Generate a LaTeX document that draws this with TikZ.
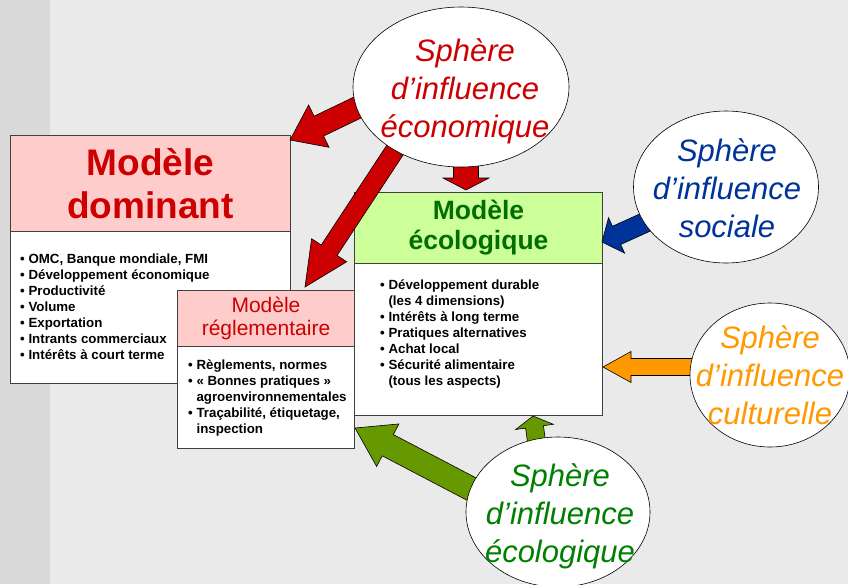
\documentclass[tikz,border=0pt]{standalone}
\usepackage{fontspec}
\setmainfont{Liberation Sans}
\usetikzlibrary{shapes.geometric,calc}
\definecolor{redc}{HTML}{CC0000}
\definecolor{bluec}{HTML}{003399}
\definecolor{orangec}{HTML}{FF9900}
\definecolor{greena}{HTML}{669900}
\definecolor{greent}{HTML}{008000}
\definecolor{greenh}{HTML}{006E00}
\definecolor{domfill}{HTML}{FFCCCC}
\definecolor{ecofill}{HTML}{CCFF99}
\definecolor{bgc}{HTML}{EAEAEA}
\definecolor{stripc}{HTML}{DADADA}
\definecolor{bordc}{HTML}{404040}
\newcommand{\blockarrow}[6]{%
  \coordinate (bh) at ($(#2)!#5!(#1)$);
  \fill[#6, draw=black, line width=0.6pt, line join=miter]
   ($(#1)!#3!90:(#2)$) -- ($(bh)!#3!90:(#2)$) -- ($(bh)!#4!90:(#2)$) -- (#2)
   -- ($(bh)!#4!-90:(#2)$) -- ($(bh)!#3!-90:(#2)$) -- ($(#1)!#3!-90:(#2)$) -- cycle;
}
\begin{document}
\begin{tikzpicture}[x=1pt,y=-1pt,
  boxbody/.style={draw=bordc, fill=white, line width=1pt, anchor=north west, inner sep=0pt},
  boxhead/.style={draw=bordc, line width=1pt, anchor=north west, inner sep=0pt, align=center},
  bodytext/.style={anchor=base west, inner sep=0pt, align=left, font=\bfseries\fontsize{13.3}{16}\selectfont},
  sphere/.style={ellipse, draw=black, line width=0.6pt, fill=white, inner sep=0pt},
  spheretext/.style={inner sep=0pt, align=center, font=\itshape\fontsize{31}{38}\selectfont}]
\useasboundingbox (0,0) rectangle (848,584);
\fill[bgc] (0,0) rectangle (848,584);
\fill[stripc] (0,0) rectangle (50,584);

% Modele dominant
\node[boxbody, minimum width=280pt, minimum height=248pt] (dom) at (10,135) {};
\node[boxhead, fill=domfill, minimum width=280pt, minimum height=96pt, text=redc,
      font=\bfseries\fontsize{37}{43}\selectfont] (domh) at (dom.north west) {Modèle\\dominant};
\node[bodytext] (domb) at (20,359.7) {• OMC, Banque mondiale, FMI\\• Développement économique\\• Productivité\\• Volume\\• Exportation\\• Intrants commerciaux\\• Intérêts à court terme};

% Modele reglementaire
\node[boxbody, minimum width=177pt, minimum height=158pt] (reg) at (177,290) {};
\node[boxhead, fill=domfill, minimum width=177pt, minimum height=56pt, text=redc,
      font=\fontsize{21}{23}\selectfont] (regh) at (reg.north west) {Modèle\\réglementaire};
\node[bodytext] (regb) at (188,433.7) {• Règlements, normes\\• « Bonnes pratiques »\\\hphantom{• }agroenvironnementales\\• Traçabilité, étiquetage,\\\hphantom{• }inspection};

% Modele ecologique
\node[boxbody, minimum width=248pt, minimum height=223pt] (eco) at (354,192) {};
\node[boxhead, fill=ecofill, minimum width=248pt, minimum height=71pt, text=greenh,
      font=\bfseries\fontsize{26.5}{30}\selectfont] (ecoh) at (eco.north west) {Modèle\\écologique};
\node[bodytext] (ecob) at (380,385) {• Développement durable\\\hphantom{• }(les 4 dimensions)\\• Intérêts à long terme\\• Pratiques alternatives\\• Achat local\\• Sécurité alimentaire\\\hphantom{• }(tous les aspects)};

% arrow end points
\coordinate (t1) at (371,101); \coordinate (p1) at (290,140);
\coordinate (t2) at (395,150); \coordinate (p2) at (305,287);
\coordinate (t3) at (466,160); \coordinate (p3) at (466,190);
\coordinate (t4) at (666,213); \coordinate (p4) at (602,242);
\coordinate (t5) at (700,367); \coordinate (p5) at (603,367);
\coordinate (t6) at (479,493); \coordinate (p6) at (355,428);
\coordinate (t7) at (537,445); \coordinate (p7) at (533,416);

\blockarrow{t1}{p1}{11pt}{23.5pt}{32pt}{redc}
\blockarrow{t2}{p2}{9.5pt}{21pt}{44pt}{redc}
\blockarrow{t3}{p3}{12.5pt}{23pt}{12pt}{redc}
\blockarrow{t4}{p4}{10pt}{19.5pt}{16pt}{bluec}
\blockarrow{t5}{p5}{8.5pt}{15.5pt}{28pt}{orangec}
\blockarrow{t6}{p6}{12pt}{24pt}{37pt}{greena}
\blockarrow{t7}{p7}{9pt}{19pt}{11pt}{greena}

% spheres
\node[sphere, minimum width=216pt, minimum height=160pt] (secon) at (461,87) {};
\node[spheretext, text=redc] (secont) at (465,91) {Sphère\\d’influence\\économique};
\node[sphere, minimum width=185pt, minimum height=152pt] (ssoc) at (726,187) {};
\node[spheretext, text=bluec] (ssoct) at (727,188.5) {Sphère\\d’influence\\sociale};
\node[sphere, minimum width=160pt, minimum height=144pt] (scult) at (770,375) {};
\node[spheretext, text=orangec] (scultt) at (770,375.5) {Sphère\\d’influence\\culturelle};
\node[sphere, minimum width=184pt, minimum height=150pt] (secol) at (558,512) {};
\node[spheretext, text=greent] (secolt) at (560,516) {Sphère\\d’influence\\écologique};
\end{tikzpicture}
\end{document}
